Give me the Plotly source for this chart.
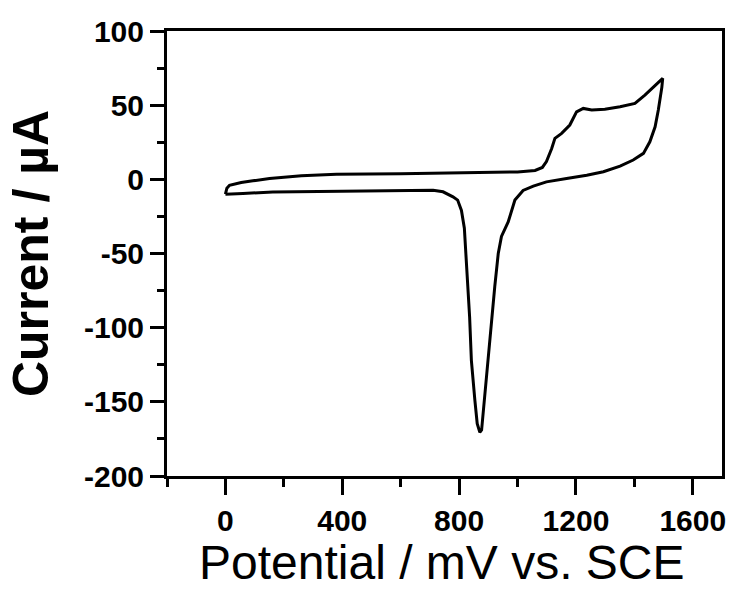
import plotly.graph_objects as go

# Cyclic voltammogram: forward (anodic) sweep 0 -> 1500 mV, then reverse back to 0
potential_mv = [
    0, 5, 14, 54, 94, 151, 260, 380, 600, 750, 1000, 1060, 1085, 1099, 1117, 1128,
    1151, 1179, 1202, 1225, 1254, 1299, 1351, 1402, 1436, 1497,
    1494, 1482, 1471, 1453, 1431, 1396, 1351, 1294, 1237, 1168, 1099, 1054, 1019,
    991, 968, 945, 934, 922, 911, 899, 888, 877, 871, 862, 854, 842, 836, 827,
    818, 808, 795, 779, 745, 711, 600, 470, 231, 162, 60, 0,
]
current_ua = [
    -10, -6, -4, -2.1, -1, 0.6, 2.4, 3.5, 3.8, 4.2, 5, 6, 8, 12, 20.8, 27.6,
    31, 36.6, 45.5, 47.8, 46.7, 47.2, 48.9, 51.2, 56.8, 68,
    62, 46.7, 35.4, 25.3, 17.5, 13, 8.9, 5.1, 2.8, 0.6, -1.7, -4.6, -7.5,
    -14, -28.7, -38.5, -50, -72.5, -95, -122, -146.8, -169, -170.5, -164.7, -149, -122, -92.8, -61.3,
    -33, -21, -14, -11.8, -8.4, -7.3, -7.5, -8, -8.5, -8.5, -9.5, -10,
]

x_ticks = [0, 400, 800, 1200, 1600]
y_ticks = [-200, -150, -100, -50, 0, 50, 100]
x_title = "Potential / mV vs. SCE"
y_title = "Current / µA"

fig = go.Figure()
fig.add_trace(go.Scatter(
    x=potential_mv, y=current_ua, mode="lines",
    line=dict(color="black", width=3), showlegend=False,
))

font_family = "Liberation Sans, Arial, sans-serif"
plot_h = 591 - 31 - 115

fig.update_layout(
    width=738, height=591,
    margin=dict(l=167, r=16, t=31, b=115),
    paper_bgcolor="white", plot_bgcolor="white",
    font=dict(family=font_family, color="black"),
)
fig.add_annotation(
    text=x_title, xref="paper", yref="paper", x=0.5, y=-(115 - 1) / plot_h,
    xanchor="center", yanchor="bottom", showarrow=False,
    font=dict(size=48, family=font_family, color="black"), borderpad=0,
    xshift=-3,
)
fig.update_xaxes(
    range=[-200, 1700], tickvals=x_ticks, ticktext=[str(v) for v in x_ticks],
    showgrid=False, zeroline=False,
    showline=True, linecolor="black", linewidth=3, mirror=True,
    ticks="outside", ticklen=16, tickwidth=3, tickcolor="black",
    minor=dict(dtick=200, tick0=0, ticks="outside", ticklen=8, tickwidth=3, tickcolor="black"),
    tickfont=dict(size=30, weight="bold", family=font_family),
)
fig.update_yaxes(
    range=[-200, 100], tickvals=y_ticks, ticktext=[str(v) for v in y_ticks],
    showgrid=False, zeroline=False,
    showline=True, linecolor="black", linewidth=3, mirror=True,
    ticks="outside", ticklen=14, tickwidth=3, tickcolor="black",
    minor=dict(dtick=25, tick0=0, ticks="outside", ticklen=7, tickwidth=3, tickcolor="black"),
    tickfont=dict(size=30, weight="bold", family=font_family),
    title=dict(text=y_title, font=dict(size=50, weight="bold", family=font_family), standoff=20),
)

fig.write_html("out.html")
